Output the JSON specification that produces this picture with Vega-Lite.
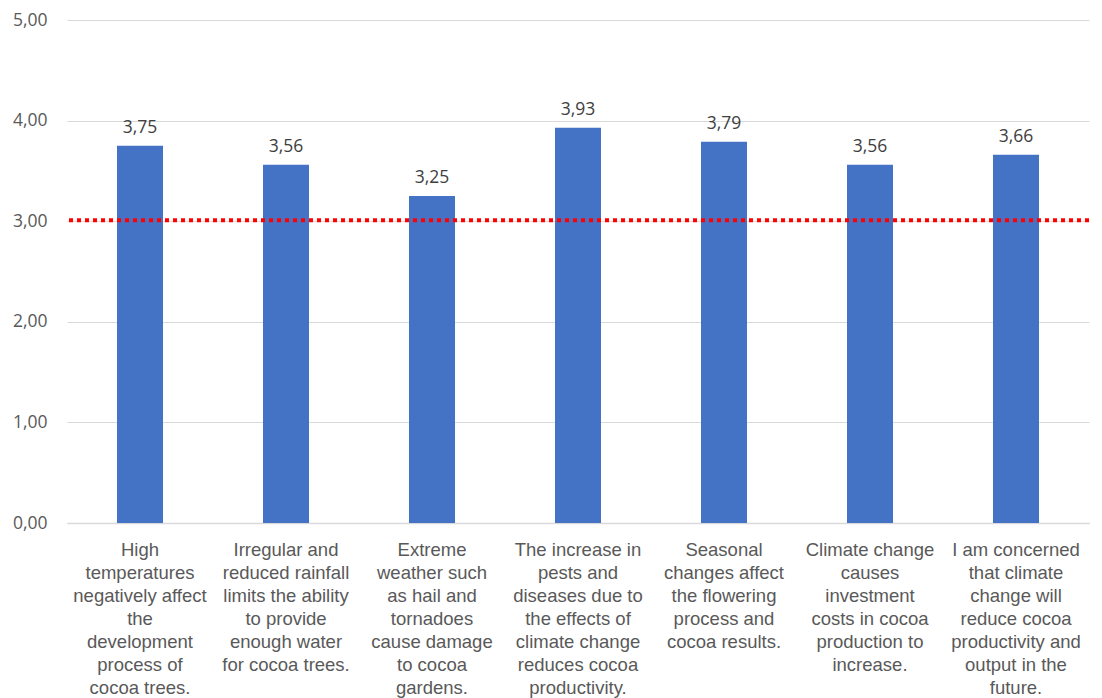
{
  "$schema": "https://vega.github.io/schema/vega-lite/v6.json",
  "autosize": {"type": "none"},
  "padding": {"left": 67, "top": 20, "right": 13, "bottom": 175},
  "width": 1022,
  "height": 503,
  "background": "white",
  "config": {
    "view": {"stroke": null},
    "locale": {"number": {"decimal": ",", "thousands": ".", "grouping": [3], "currency": ["", " €"]}}
  },
  "layer": [
    {
      "data": {
        "values": [
          {"item": "High|temperatures|negatively affect|the|development|process of|cocoa trees.", "score": 3.75},
          {"item": "Irregular and|reduced rainfall|limits the ability|to provide|enough water|for cocoa trees.", "score": 3.56},
          {"item": "Extreme|weather such|as hail and|tornadoes|cause damage|to cocoa|gardens.", "score": 3.25},
          {"item": "The increase in|pests and|diseases due to|the effects of|climate change|reduces cocoa|productivity.", "score": 3.93},
          {"item": "Seasonal|changes affect|the flowering|process and|cocoa results.", "score": 3.79},
          {"item": "Climate change|causes|investment|costs in cocoa|production to|increase.", "score": 3.56},
          {"item": "I am concerned|that climate|change will|reduce cocoa|productivity and|output in the|future.", "score": 3.66}
        ]
      },
      "encoding": {
        "x": {
          "field": "item",
          "type": "nominal",
          "sort": null,
          "scale": {"paddingInner": 0.685, "paddingOuter": 0.3425},
          "axis": {
            "title": null,
            "labelAngle": 0,
            "labelExpr": "split(datum.label, '|')",
            "labelFont": "Liberation Sans",
            "labelFontSize": 18.5,
            "labelLineHeight": 23,
            "labelColor": "#595959",
            "labelPadding": 17,
            "labelBaseline": "top",
            "labelLimit": 200,
            "ticks": false,
            "domainColor": "#d9d9d9",
            "domainWidth": 1.5
          }
        }
      },
      "layer": [
        {
          "mark": {"type": "bar", "color": "#4472C4"},
          "encoding": {
            "y": {
              "field": "score",
              "type": "quantitative",
              "scale": {"domain": [0, 5]},
              "axis": {
                "title": null,
                "values": [0, 1, 2, 3, 4, 5],
                "format": ".2f",
                "labelFont": "Open Sans",
                "labelFontSize": 17.5,
                "labelColor": "#595959",
                "labelPadding": 20,
                "ticks": false,
                "domain": false,
                "gridColor": "#d9d9d9",
                "gridWidth": 1
              }
            }
          }
        },
        {
          "mark": {"type": "text", "baseline": "bottom", "dy": -9, "font": "Open Sans", "fontSize": 17.5, "color": "#404040"},
          "encoding": {
            "y": {"field": "score", "type": "quantitative"},
            "text": {"field": "score", "type": "quantitative", "format": ".2f"}
          }
        }
      ]
    },
    {
      "data": {"values": [{"ref": 3.01}]},
      "mark": {"type": "rule", "color": "#ff0000", "strokeWidth": 4, "strokeDash": [4, 4]},
      "encoding": {"y": {"field": "ref", "type": "quantitative"}}
    }
  ]
}
